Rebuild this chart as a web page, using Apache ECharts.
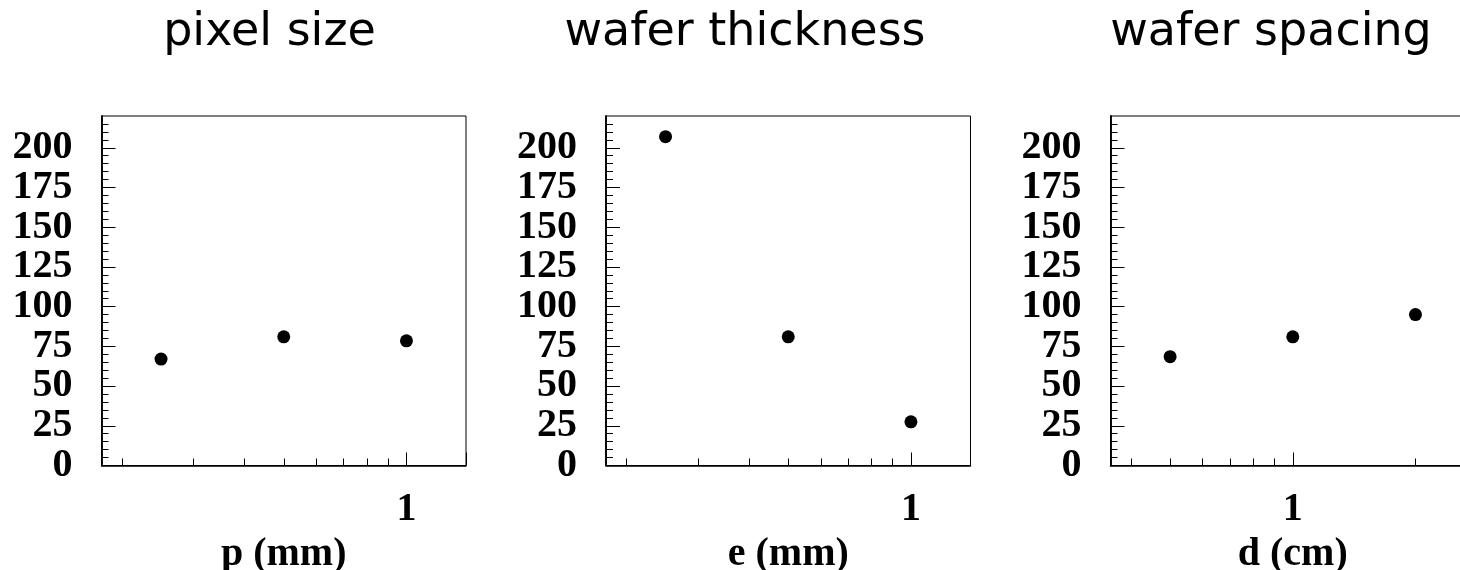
<!DOCTYPE html>
<html>
<head>
<meta charset="utf-8">
<title>Parameter scans</title>
<script src="https://cdn.jsdelivr.net/npm/echarts@6/dist/echarts.min.js"></script>
<style>
  html, body { margin: 0; padding: 0; background: #fff; }
  #chart { width: 1460px; height: 570px; }
</style>
</head>
<body>
<div id="chart"></div>
<script>
// Panel titles and x-axis names
const panelTitles = ['pixel size', 'wafer thickness', 'wafer spacing'];
const axisNames = ['p (mm)', 'e (mm)', 'd (cm)'];

// Scan points: parameter value (log axis) and measured value
const pixelSizeX = [0.25, 0.5, 1];
const pixelSizeY = [67, 81, 78.5];
const thicknessX = [0.25, 0.5, 1];
const thicknessY = [207, 81, 27.5];
const spacingX = [0.5, 1, 2];
const spacingY = [68.5, 81, 95];

// Log x-axis ranges
const pixelSizeRange = [0.1786, 1.4];
const thicknessRange = [0.1786, 1.4];
const spacingRange = [0.357, 2.8];

// Minor tick positions on the log x axes
const pixelSizeMinorTicks = [0.2, 0.3, 0.4, 0.5, 0.6, 0.7, 0.8, 0.9];
const thicknessMinorTicks = [0.2, 0.3, 0.4, 0.5, 0.6, 0.7, 0.8, 0.9];
const spacingMinorTicks = [0.4, 0.5, 0.6, 0.7, 0.8, 0.9, 2];

// Y axis range; labelled ticks every 25 (split over two overlaid axes so that
// neighbouring labels never collide), minor ticks every 5
const yMin = 0;
const yMax = 220;
const yStep = 25;
const yLabelsEven = [0, 50, 100, 150, 200];
const yLabelsOdd = [25, 75, 125, 175];

const panels = [
  { x: pixelSizeX, y: pixelSizeY, range: pixelSizeRange, minor: pixelSizeMinorTicks },
  { x: thicknessX, y: thicknessY, range: thicknessRange, minor: thicknessMinorTicks },
  { x: spacingX, y: spacingY, range: spacingRange, minor: spacingMinorTicks }
];

const gridLefts = [101.5, 606, 1110.5];
const gridWidth = 364.5;
const titleCenters = [269.5, 745, 1271];

const serif = '"Liberation Serif", "Times New Roman", serif';
const labelStyle = { color: '#000', fontFamily: serif, fontWeight: 'bold', fontSize: 40 };

const chart = echarts.init(document.getElementById('chart'), null, { renderer: 'canvas' });

const grids = [], xAxes = [], yAxes = [], series = [], graphics = [];

function makeYAxis(gridIndex, labels, withMinor) {
  return {
    gridIndex: gridIndex, type: 'value', position: 'left',
    min: yMin, max: yMax, interval: yStep,
    axisLine: { show: true, lineStyle: { color: '#000', width: 1.5 } },
    axisTick: {
      show: true, inside: true, length: 14, customValues: labels,
      lineStyle: { color: '#000', width: 1 }
    },
    minorTick: { show: withMinor, splitNumber: 5, length: 7, lineStyle: { color: '#000', width: 1 } },
    axisLabel: Object.assign({
      margin: 29, customValues: labels, hideOverlap: false,
      showMinLabel: true, showMaxLabel: true
    }, labelStyle),
    splitLine: { show: false }
  };
}

panels.forEach(function (p, i) {
  grids.push({
    left: gridLefts[i], top: 116, width: gridWidth, height: 349.5,
    containLabel: false, outerBoundsMode: 'none',
    show: true, borderColor: '#000', borderWidth: 1, backgroundColor: 'transparent'
  });

  xAxes.push({
    gridIndex: i, type: 'log', logBase: 10,
    min: p.range[0], max: p.range[1],
    name: axisNames[i], nameLocation: 'middle', nameGap: 57,
    nameTextStyle: labelStyle,
    axisLine: { show: true, lineStyle: { color: '#000', width: 1.5 } },
    axisTick: { show: true, inside: true, length: 13, lineStyle: { color: '#000', width: 1 } },
    axisLabel: Object.assign({
      margin: 24, hideOverlap: false,
      formatter: function (v) { return Math.abs(v - 1) < 1e-6 ? '1' : ''; }
    }, labelStyle),
    splitLine: { show: false }
  });

  const yIndex = yAxes.length;
  yAxes.push(makeYAxis(i, yLabelsEven, true));
  yAxes.push(makeYAxis(i, yLabelsOdd, false));

  // Measured points
  series.push({
    type: 'scatter', xAxisIndex: i, yAxisIndex: yIndex,
    symbol: 'circle', symbolSize: 13,
    itemStyle: { color: '#000', opacity: 1 },
    data: p.x.map(function (v, k) { return [v, p.y[k]]; }),
    silent: true
  });

  // Minor ticks of the log axis, placed through the axis scale
  series.push({
    type: 'custom', xAxisIndex: i, yAxisIndex: yIndex,
    silent: true, clip: false,
    encode: { x: 0, y: 1 },
    data: p.minor.map(function (v) { return [v, yMin]; }),
    renderItem: function (params, api) {
      const pt = api.coord([api.value(0), api.value(1)]);
      const x = Math.round(pt[0]) + 0.5;
      return {
        type: 'line',
        shape: { x1: x, y1: pt[1], x2: x, y2: pt[1] - 7 },
        style: { stroke: '#000', lineWidth: 1 }
      };
    }
  });

  graphics.push({
    type: 'text', x: titleCenters[i], y: 33,
    style: {
      text: panelTitles[i], fill: '#000',
      font: '46px "DejaVu Sans", sans-serif',
      align: 'center', verticalAlign: 'middle'
    }
  });
});

chart.setOption({
  animation: false,
  backgroundColor: '#fff',
  grid: grids,
  xAxis: xAxes,
  yAxis: yAxes,
  series: series,
  graphic: graphics
});
</script>
</body>
</html>
